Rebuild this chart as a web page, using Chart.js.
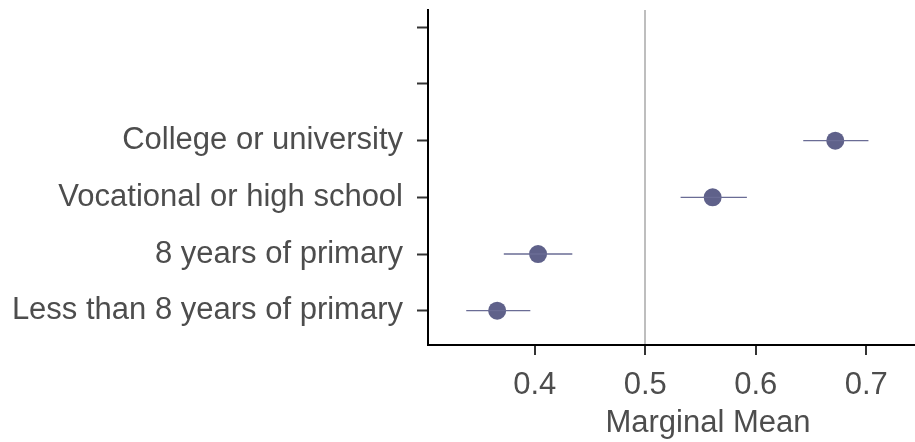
<!DOCTYPE html>
<html>
<head>
<meta charset="utf-8">
<script src="https://cdn.jsdelivr.net/npm/chart.js@4/dist/chart.umd.min.js"></script>
<style>
  html, body { margin: 0; padding: 0; background: #ffffff; overflow: hidden; }
  /* the panel runs past the right edge of the frame */
  #wrap { width: 915px; height: 442px; overflow: hidden; }
  #chart { display: block; }
</style>
</head>
<body>
<div id="wrap"><canvas id="chart" width="988" height="442"></canvas></div>
<script>
// Education levels, bottom to top; two blank rows sit above them
const categories = [
  'Less than 8 years of primary',
  '8 years of primary',
  'Vocational or high school',
  'College or university'
];
const rowLabels = ['Less than 8 years of primary', '8 years of primary',
  'Vocational or high school', 'College or university', '', ''];

// Marginal means with 95% confidence bounds
const estimates = [0.366, 0.403, 0.561, 0.672];
const lower     = [0.338, 0.372, 0.532, 0.643];
const upper     = [0.396, 0.434, 0.592, 0.702];

const xTicks = [0.4, 0.5, 0.6, 0.7];
const referenceValue = 0.5;

const FONT = "'Liberation Sans', Arial, Helvetica, sans-serif";
const POINT_COLOR = '#5f618a';
const BAR_COLOR = '#6a6c95';

// keep the plot area fixed: no extra room for overhanging labels
function noPadding(s) {
  s.paddingTop = 0; s.paddingBottom = 0; s.paddingLeft = 0; s.paddingRight = 0;
}

// one two-point line per row for the interval
const intervalSets = categories.map((c, i) => ({
  type: 'line',
  label: c + ' interval',
  data: [{ x: lower[i], y: i + 1 }, { x: upper[i], y: i + 1 }],
  borderColor: BAR_COLOR,
  borderWidth: 1.3,
  pointRadius: 0,
  pointHoverRadius: 0,
  fill: false
}));

const pointSet = {
  type: 'scatter',
  label: 'Marginal mean',
  data: estimates.map((v, i) => ({ x: v, y: i + 1 })),
  backgroundColor: POINT_COLOR,
  borderColor: POINT_COLOR,
  borderWidth: 0,
  pointRadius: 9,
  pointHoverRadius: 9
};

new Chart(document.getElementById('chart'), {
  type: 'scatter',
  data: { datasets: [...intervalSets, pointSet] },
  options: {
    responsive: false,
    animation: false,
    layout: { autoPadding: false, padding: { top: 10, right: 0, left: 0, bottom: 0 } },
    plugins: { legend: { display: false }, tooltip: { enabled: false } },
    scales: {
      x: {
        type: 'linear',
        min: 0.3034,
        max: 0.8102,
        afterBuildTicks: s => { s.ticks = xTicks.map(v => ({ value: v })); },
        afterFit: s => { s.height = 97; noPadding(s); },
        grid: {
          drawOnChartArea: true,
          color: ctx => (ctx.tick && Math.abs(ctx.tick.value - referenceValue) < 1e-9) ? '#bebebe' : 'rgba(0,0,0,0)',
          lineWidth: 2,
          tickColor: '#333333',
          tickLength: 10,
          tickWidth: 2
        },
        border: { display: true, color: '#000000', width: 2 },
        ticks: {
          color: '#4d4d4d',
          font: { family: FONT, size: 31 },
          padding: 12,
          maxRotation: 0,
          callback: v => v.toFixed(1)
        },
        title: {
          display: true,
          text: 'Marginal Mean',
          color: '#4d4d4d',
          font: { family: FONT, size: 31 },
          padding: { top: 0, bottom: 0 }
        }
      },
      y: {
        type: 'linear',
        min: 0.395,
        max: 6.305,
        afterBuildTicks: s => { s.ticks = rowLabels.map((_, i) => ({ value: i + 1 })); },
        afterFit: s => { s.width = 428; noPadding(s); },
        grid: {
          drawOnChartArea: false,
          tickColor: '#333333',
          tickLength: 11,
          tickWidth: 2
        },
        border: { display: true, color: '#000000', width: 2 },
        ticks: {
          color: '#4d4d4d',
          font: { family: FONT, size: 31 },
          padding: 14,
          autoSkip: false,
          callback: v => rowLabels[Math.round(v) - 1] || ''
        }
      }
    }
  }
});
</script>
</body>
</html>
